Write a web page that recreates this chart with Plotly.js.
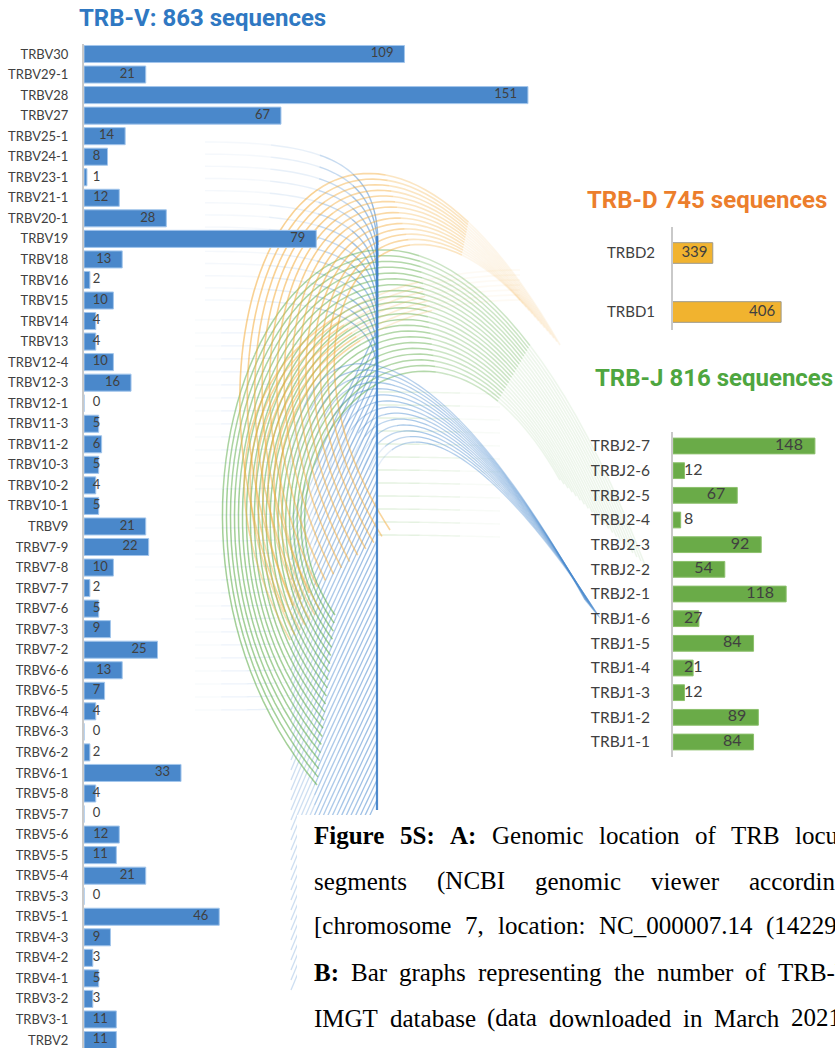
<!DOCTYPE html>
<html><head><meta charset="utf-8">
<script src="https://cdn.plot.ly/plotly-3.0.1.min.js"></script>
<style>html,body{margin:0;padding:0;background:#fff}#chart{width:835px;height:1048px}</style>
</head><body><div id="chart"></div>
<script>
// ---------------- data ----------------
const vGenes=['TRBV30','TRBV29-1','TRBV28','TRBV27','TRBV25-1','TRBV24-1','TRBV23-1','TRBV21-1','TRBV20-1','TRBV19','TRBV18','TRBV16','TRBV15','TRBV14','TRBV13','TRBV12-4','TRBV12-3','TRBV12-1','TRBV11-3','TRBV11-2','TRBV10-3','TRBV10-2','TRBV10-1','TRBV9','TRBV7-9','TRBV7-8','TRBV7-7','TRBV7-6','TRBV7-3','TRBV7-2','TRBV6-6','TRBV6-5','TRBV6-4','TRBV6-3','TRBV6-2','TRBV6-1','TRBV5-8','TRBV5-7','TRBV5-6','TRBV5-5','TRBV5-4','TRBV5-3','TRBV5-1','TRBV4-3','TRBV4-2','TRBV4-1','TRBV3-2','TRBV3-1','TRBV2'];
const vCounts=[109,21,151,67,14,8,1,12,28,79,13,2,10,4,4,10,16,0,5,6,5,4,5,21,22,10,2,5,9,25,13,7,4,0,2,33,4,0,12,11,21,0,46,9,3,5,3,11,11];
const dGenes=['TRBD2','TRBD1'];
const dCounts=[339,406];
const jGenes=['TRBJ2-7','TRBJ2-6','TRBJ2-5','TRBJ2-4','TRBJ2-3','TRBJ2-2','TRBJ2-1','TRBJ1-6','TRBJ1-5','TRBJ1-4','TRBJ1-3','TRBJ1-2','TRBJ1-1'];
const jCounts=[148,12,67,8,92,54,118,27,84,21,12,89,84];
const titleV='TRB-V: 863 sequences';
const titleD='TRB-D 745 sequences';
const titleJ='TRB-J 816 sequences';
// caption lines: words ([text, bold]) ; the paragraph is justified
const capLine1=[['Figure',1],['5S:',1],['A:',1],['Genomic',0],['location',0],['of',0],['TRB',0],['locus',0]];
const capLine2=[['segments',0],['(NCBI',0],['genomic',0],['viewer',0],['according',0]];
const capLine3=[['[chromosome',0],['7,',0],['location:',0],['NC_000007.14',0],['(142299011..142813287)]',0]];
const capLine4=[['B:',1],['Bar',0],['graphs',0],['representing',0],['the',0],['number',0],['of',0],['TRB-V',0]];
const capLine5=[['IMGT',0],['database',0],['(data',0],['downloaded',0],['in',0],['March',0],['2021)',0]];

// ---------------- geometry helpers ----------------
const W=835,H=1048;
const px=x=>x/W, py=y=>1-y/H;
const LAB='Lato, "Open Sans", sans-serif';
const vK=2.94, dK=1.02, dMin=300, jK=0.959;

function labelX(vals,k,base,minLeftPx,digitW,offPx){
  return vals.map(v=>{const nd=String(v).length;
    const right=Math.max((v-base)*k-offPx,minLeftPx+nd*digitW);
    return base+right/k;});
}

// ---------------- decorative curves ----------------
const shapes=[];
function cub(P,t){const u=1-t;return [u*u*u*P[0][0]+3*u*u*t*P[1][0]+3*u*t*t*P[2][0]+t*t*t*P[3][0],
  u*u*u*P[0][1]+3*u*u*t*P[1][1]+3*u*t*t*P[2][1]+t*t*t*P[3][1]];}
function addCurve(P,color,width,ops){
  const n=ops.length,per=10;
  for(let s=0;s<n;s++){let d='';
    for(let k=0;k<=per;k++){const t=(s+k/per)/n,q=cub(P,t);d+=(k?' L':'M')+px(q[0]).toFixed(5)+','+py(q[1]).toFixed(5);}
    shapes.push({type:'path',xref:'paper',yref:'paper',path:d,line:{color:color,width:width},opacity:ops[s],layer:'below'});}
}
const lerpP=(A,B,t)=>A.map((p,i)=>[p[0]+(B[i][0]-p[0])*t,p[1]+(B[i][1]-p[1])*t]);
function family(A,B,n,color,width,ops){for(let i=0;i<n;i++)addCurve(lerpP(A,B,n>1?i/(n-1):0),color,width,ops);}

const BLUE='#4a8bd0',GREEN='#5aab45',ORANGE='#f5ad3c';
// faint blue horizontals on the left
for(let y=320;y<=722;y+=13)addCurve([[195,y],[230,y],[265,y],[300,y-2]],'#8fb8e6',1.3,[0.05,0.15,0.18,0.08]);
// blue arcs into the vertical spine
family([[205,142],[330,142],[378,165],[378,245]],[[205,300],[320,300],[378,310],[378,380]],14,BLUE,1.4,[0.05,0.12,0.3,0.5,0.6]);
// blue diagonals into the spine
for(let j=0;j<48;j++){const ye=330+10*j;addCurve([[291,ye+190],[322,ye+115],[356,ye+45],[377,ye]],'#5f98d6',1.3,[0.3,0.5,0.55,0.6]);}
// green faint horizontals right of spine
for(let i=0;i<12;i++){const y=392+13*i;addCurve([[378,y],[420,y],[460,y+1],[500,y+2]],'#8cc67a',1.4,[0.22,0.15,0.05]);}
// green arcs
family([[317,785],[60,480],[380,-120],[645,565]],[[335,615],[230,470],[420,230],[560,480]],22,GREEN,1.5,[0.55,0.55,0.5,0.5,0.45,0.3,0.1]);
// orange arcs
family([[285,612],[150,300],[340,-40],[560,345]],[[390,530],[260,330],[380,150],[520,300]],14,ORANGE,1.6,[0.5,0.55,0.55,0.55,0.45,0.3,0.1]);
family([[290,640],[170,420],[300,270],[520,270]],[[320,610],[215,430],[330,300],[520,300]],7,ORANGE,1.6,[0.4,0.5,0.5,0.45,0.2,0.05]);
// blue arcs towards J
family([[290,470],[300,320],[420,300],[585,600]],[[376,470],[400,420],[470,420],[600,618]],14,BLUE,1.3,[0.15,0.35,0.45,0.4,0.35,0.3]);
// spine
shapes.push({type:'line',xref:'paper',yref:'paper',x0:px(377),x1:px(377),y0:py(236),y1:py(810),line:{color:'#3d7fc8',width:2.2},opacity:0.9,layer:'below'});
// white caption box
shapes.push({type:'rect',xref:'paper',yref:'paper',x0:px(297),x1:1.01,y0:py(815),y1:-0.01,fillcolor:'#ffffff',line:{width:0},layer:'below'});

// ---------------- traces ----------------
const labFont={family:LAB,size:13,color:'#404040'};
const traces=[
 {type:'bar',orientation:'h',x:vCounts,y:vGenes,xaxis:'x',yaxis:'y',width:0.83,
  marker:{color:'#4a88cb',line:{color:'#a3c6ec',width:1}},hoverinfo:'none'},
 {type:'scatter',mode:'text',x:labelX(vCounts,vK,0,9,7.4,11),y:vGenes,text:vCounts.map(String),
  textposition:'middle left',textfont:labFont,xaxis:'x',yaxis:'y',cliponaxis:false,hoverinfo:'none'},
 {type:'bar',orientation:'h',x:dCounts,y:dGenes,xaxis:'x2',yaxis:'y2',width:0.35,
  marker:{color:'#f1b32f',line:{color:'#9e9a8c',width:1}},hoverinfo:'none'},
 {type:'scatter',mode:'text',x:labelX(dCounts,dK,dMin,9,8.5,6),y:dGenes,text:dCounts.map(String),
  textposition:'middle left',textfont:{family:LAB,size:15,color:'#404040'},xaxis:'x2',yaxis:'y2',cliponaxis:false,hoverinfo:'none'},
 {type:'bar',orientation:'h',x:jCounts,y:jGenes,xaxis:'x3',yaxis:'y3',width:0.64,
  marker:{color:'#6aab48',line:{color:'#8cc06c',width:1}},hoverinfo:'none'},
 {type:'scatter',mode:'text',x:labelX(jCounts,jK,0,11,9.3,12),y:jGenes,text:jCounts.map(String),
  textposition:'middle left',textfont:{family:LAB,size:16,color:'#404040'},xaxis:'x3',yaxis:'y3',cliponaxis:false,hoverinfo:'none'}
];

function catAxis(cats,dom,range,ticklen,size){
  return {domain:dom,type:'category',categoryorder:'array',categoryarray:cats,range:range,
    showline:true,linecolor:'#c9c9c9',linewidth:2,ticks:'outside',ticklen:ticklen,tickcolor:'rgba(0,0,0,0)',
    tickfont:{family:LAB,size:size,color:'#404040'},showgrid:false,zeroline:false,fixedrange:true};
}
const hid=(dom,range)=>({domain:dom,range:range,visible:false,showgrid:false,zeroline:false,fixedrange:true});

// ---------------- annotations ----------------
const ann=[];
function A(text,x,y,font,xanchor){ann.push({text:text,xref:'paper',yref:'paper',x:px(x),y:py(y),xanchor:xanchor||'left',yanchor:'middle',showarrow:false,font:font,borderpad:0,borderwidth:0});}
const TF=(c)=>({family:'Roboto, "Open Sans", sans-serif',size:24,color:c});
A('<b>'+titleV+'</b>',79,18,TF('#2f78c2'));
A('<b>'+titleD+'</b>',587,200,TF('#ec7e2c'));
A('<b>'+titleJ+'</b>',595,378,TF('#4ea63f'));

const CAPSIZE=25, CAPFAM='"Liberation Serif","Times New Roman",serif';
const CF={family:CAPFAM,size:CAPSIZE,color:'#000'};
const ctx=document.createElement('canvas').getContext('2d');
function wWidth(w){ctx.font=(w[1]?'bold ':'')+CAPSIZE+'px "Liberation Serif"';return ctx.measureText(w[0]).width;}
function justify(words,x0,lastStart,y){
  let sum=0;for(let i=0;i<words.length-1;i++)sum+=wWidth(words[i]);
  const g=(lastStart-x0-sum)/(words.length-1);
  let x=x0;
  words.forEach((w,i)=>{A(w[1]?'<b>'+w[0]+'</b>':w[0],x,y,CF);x+=wWidth(w)+g;});
}
justify(capLine1,314,795,835);
justify(capLine2,314,749,881);
justify(capLine3,314,766,926);
justify(capLine4,314,778,972);
justify(capLine5,314,791,1018);

const layout={width:W,height:H,margin:{l:0,r:0,t:0,b:0},paper_bgcolor:'#fff',plot_bgcolor:'rgba(0,0,0,0)',
  showlegend:false,bargap:0,
  xaxis:hid([px(84),px(600)],[0,516/vK]),
  yaxis:catAxis(vGenes,[0,py(44)],[48+8/20.54,-10/20.54],11,13),
  xaxis2:hid([px(673),1],[dMin,dMin+162/dK]),
  yaxis2:Object.assign(catAxis(dGenes,[py(330),py(227)],[1+18/59,-26/59],13,15),{anchor:'x2'}),
  xaxis3:hid([px(673),1],[0,162/jK]),
  yaxis3:Object.assign(catAxis(jGenes,[py(757),py(432)],[12+15/24.67,-14/24.67],18,15.5),{anchor:'x3'}),
  shapes:shapes,annotations:ann};
layout.xaxis2.anchor='y2';layout.xaxis3.anchor='y3';layout.xaxis.anchor='y';layout.yaxis.anchor='x';
Plotly.newPlot('chart',traces,layout,{staticPlot:true,displayModeBar:false});
</script></body></html>
